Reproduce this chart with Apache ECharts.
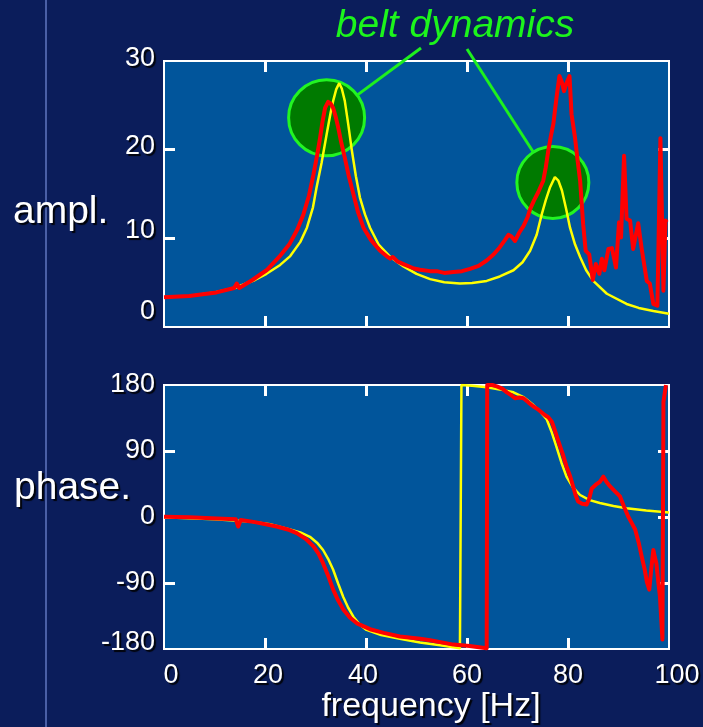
<!DOCTYPE html>
<html>
<head>
<meta charset="utf-8">
<script src="https://cdn.jsdelivr.net/npm/echarts@6/dist/echarts.min.js"></script>
<style>
  html, body { margin: 0; padding: 0; background: #0b1d5b; }
  #chart { width: 703px; height: 727px; }
</style>
</head>
<body>
<div id="chart"></div>
<script>
// Frequency response: amplitude and phase, model (yellow) vs. measurement (red)

const freqTicks = [0, 20, 40, 60, 80, 100];
const amplTicks = [0, 10, 20, 30];
const phaseTicks = [-180, -90, 0, 90, 180];

// amplitude, model [Hz, ampl]
const amplModel = [
  [0, 3.35], [5, 3.5], [10, 3.9], [14, 4.4], [18, 5.3], [20.3, 6.0], [23, 7.0], [25, 8.0],
  [27, 9.6], [28.3, 11.2], [29.5, 13.5], [30.2, 15.7], [31.2, 18.5], [32.2, 21.7], [33.0, 24.2],
  [33.5, 25.5], [34.1, 26.8], [34.7, 27.5], [35.2, 26.9], [35.8, 25.5], [36.5, 22.8], [37.2, 19.9],
  [38.0, 17.0], [38.8, 14.6], [39.8, 12.7], [40.8, 11.2], [42.5, 9.3], [44.8, 7.9], [47.5, 6.8],
  [50, 6.0], [52.7, 5.4], [55.5, 5.05], [58.6, 4.9], [61, 4.95], [63.9, 5.2], [66.5, 5.7],
  [69.2, 6.4], [71, 7.3], [72.5, 8.6], [73.8, 10.4], [74.8, 12.7], [75.6, 14.3], [76.4, 15.7],
  [77.4, 16.9], [78.1, 16.5], [78.8, 15.4], [79.6, 13.4], [80.4, 11.2], [81.4, 9.3], [82.4, 7.9],
  [83.6, 6.4], [85.0, 5.2], [87.7, 3.75], [91.6, 2.6], [94, 2.15], [96.9, 1.8], [100, 1.5]
];

// amplitude, measured [Hz, ampl]
const amplMeas = [
  [0, 3.35], [5, 3.5], [10.4, 3.9], [13.9, 4.4], [14.4, 4.9], [14.9, 4.4], [17.5, 5.3], [20.3, 6.4],
  [22.8, 7.9], [24.9, 9.4], [26.4, 11.0], [27.6, 12.7], [28.7, 14.8], [29.6, 17.2], [30.3, 19.3],
  [30.9, 21.3], [31.4, 23.2], [31.9, 24.7], [32.5, 25.4], [33.0, 25.2], [33.5, 24.7], [34.0, 23.7],
  [34.5, 22.5], [35.1, 20.8], [35.8, 19.1], [36.6, 17.0], [37.5, 15.0], [38.4, 13.0], [39.5, 11.2],
  [41.0, 9.8], [42.8, 8.6], [44.3, 7.9], [44.8, 7.7], [45.3, 7.9], [46.2, 7.4], [47.4, 7.1],
  [49.5, 6.6], [50.7, 6.45], [52.7, 6.3], [54.0, 6.3], [55.5, 6.1], [57.3, 6.2], [59.0, 6.3],
  [60.6, 6.55], [62.3, 6.9], [63.9, 7.5], [65.3, 8.2], [66.5, 9.0], [67.5, 9.8], [68.2, 10.4],
  [68.8, 10.2], [69.5, 9.7], [70.3, 10.6], [71.2, 11.4], [72.0, 12.4], [72.5, 13.3], [73.2, 14.2],
  [74.1, 15.2], [75.1, 16.5], [75.6, 18.0], [76.1, 19.9], [76.6, 21.5], [77.1, 22.9], [77.5, 24.8],
  [77.8, 26.2], [78.3, 28.3], [78.8, 27.6], [79.2, 26.6], [79.7, 27.5], [80.3, 28.3], [80.7, 24.0],
  [81.4, 21.3], [81.9, 18.8], [82.4, 16.5], [83.0, 11.6], [83.5, 8.6], [84.2, 8.2], [84.9, 5.3],
  [85.5, 7.1], [86.2, 6.0], [86.7, 7.7], [87.2, 6.4], [88.0, 8.8], [88.7, 8.9], [89.5, 6.7],
  [90.1, 11.8], [90.5, 10.1], [91.1, 19.3], [91.6, 12.2], [92.3, 12.0], [92.9, 8.8], [93.9, 11.7],
  [94.6, 8.8], [95.6, 5.2], [96.2, 4.9], [96.9, 2.6], [97.7, 2.4], [98.3, 21.3], [98.9, 4.1],
  [99.3, 12.0], [99.6, 11.8]
];

// phase, model [Hz, deg]; wraps from -180 to +180
const phaseModel = [
  [0, -0.5], [10, -3], [17, -6], [21, -10], [24.9, -17], [27, -21], [28.9, -27], [30.3, -35],
  [31.5, -45], [32.5, -57], [33.5, -72], [34.5, -91], [35.5, -109], [36.5, -124], [37.5, -136],
  [38.8, -147], [40.1, -154], [43, -161], [46.7, -166], [50.7, -171], [54.7, -175], [58.6, -179],
  [58.9, -180], [58.9, 180], [61, 179], [63.9, 177], [66.5, 174], [69.2, 170], [71.3, 163],
  [73.1, 153], [74.6, 143], [75.8, 133], [76.8, 115], [77.7, 96], [78.7, 74], [79.7, 55],
  [81, 40], [82.4, 30], [84.3, 23], [86.3, 19], [89, 15], [91.6, 12], [95.5, 9], [100, 6]
];

// phase, measured [Hz, deg]
const phaseMeas = [
  [0, 0.5], [5, -0.5], [10.4, -2], [14.2, -3], [14.7, -13], [15.2, -4], [18, -7], [22.3, -13],
  [24.5, -17], [26.3, -22], [28.1, -30], [29.6, -40], [30.6, -50], [31.5, -63], [32.5, -80],
  [33.5, -99], [34.5, -114], [35.5, -126], [36.8, -137], [38.2, -145], [40.8, -153], [43.5, -158],
  [46.7, -163], [50.7, -166], [52.7, -168], [57.3, -174], [60.5, -176], [63.9, -179], [64.0, -180],
  [64.0, 180], [65.0, 180], [65.9, 178], [67.0, 175], [67.9, 170], [68.8, 166], [69.5, 162],
  [70.3, 163], [71.2, 162], [72.2, 156], [73.1, 151], [74.2, 146], [75.4, 139], [76.1, 136],
  [76.8, 130], [77.4, 118], [78.1, 103], [78.9, 87], [79.7, 69], [80.4, 56], [81.0, 42],
  [81.5, 30], [82.0, 21], [82.8, 18], [83.7, 17], [84.2, 25], [84.7, 39], [85.5, 44], [86.3, 48],
  [87.0, 55], [87.6, 48], [88.3, 42], [89.3, 35], [90.3, 28], [91.1, 14], [91.9, 1], [92.6, -8],
  [93.3, -17], [94.0, -35], [94.6, -54], [95.2, -72], [95.6, -88], [96.1, -99], [96.5, -70],
  [96.9, -45], [97.2, -55], [97.5, -63], [97.9, -90], [98.2, -108], [98.7, -167], [98.9, 157],
  [99.4, 180]
];

// resonance annotations (data coordinates on the amplitude plot)
const beltModes = [[32.2, 23.6], [77.0, 16.3]];

const FONT = '"Liberation Sans", Arial, Helvetica, sans-serif';
const WHITE = '#ffffff';
const shadow = { textShadowColor: 'rgba(0,0,0,0.9)', textShadowOffsetX: 2, textShadowOffsetY: 2, textShadowBlur: 1 };

const tickStyle = { show: true, inside: true, length: 11, lineStyle: { color: WHITE, width: 3 } };

function labelStyle(extra) {
  return Object.assign({ color: WHITE, fontSize: 27, fontFamily: FONT }, shadow, extra);
}

// per-label nudges: tokens named by value
function tokenFormatter(v) { return '{t' + String(v).replace('-', 'm') + '|' + v + '}'; }

const chart = echarts.init(document.getElementById('chart'), null, { renderer: 'canvas' });

const gridBase = { show: true, backgroundColor: '#01559b', borderColor: WHITE, borderWidth: 2, left: 164, width: 505 };

function xAxisFor(gridIndex, position, showLabels) {
  return {
    type: 'value', gridIndex, position, min: 0, max: 100, interval: 20,
    axisLine: { show: false, onZero: false }, splitLine: { show: false },
    axisTick: Object.assign({ customValues: [20, 40, 60, 80] }, tickStyle),
    axisLabel: showLabels ? labelStyle({
      margin: 13,
      customValues: freqTicks,
      formatter: tokenFormatter,
      rich: { t0: { padding: [0, 0, 0, 14] }, t20: { padding: [0, 0, 0, 6] }, t40: { padding: [0, 6, 0, 0] }, t100: { padding: [0, 0, 0, 16] } }
    }) : { show: false }
  };
}

function yAxisFor(gridIndex, position, min, max, interval, ticks, showLabels, rich) {
  return {
    type: 'value', gridIndex, position, min, max, interval,
    axisLine: { show: false, onZero: false }, splitLine: { show: false },
    axisTick: Object.assign({ customValues: ticks.slice(1, -1) }, tickStyle),
    axisLabel: showLabels ? labelStyle({ margin: 9, customValues: ticks, formatter: tokenFormatter, rich }) : { show: false }
  };
}

chart.setOption({
  animation: false,
  backgroundColor: '#0b1d5b',
  grid: [
    Object.assign({ top: 61, height: 266 }, gridBase),
    Object.assign({ top: 385, height: 264 }, gridBase)
  ],
  xAxis: [
    xAxisFor(0, 'bottom', false),
    xAxisFor(0, 'top', false),
    xAxisFor(1, 'bottom', true),
    xAxisFor(1, 'top', false)
  ],
  yAxis: [
    yAxisFor(0, 'left', 0, 30, 10, amplTicks, true, {
      t0: { padding: [0, 0, 30, 0] }, t10: { padding: [0, 0, 15, 0] },
      t20: { padding: [0, 0, 7, 0] }, t30: { padding: [0, 0, 4, 0] }
    }),
    yAxisFor(0, 'right', 0, 30, 10, amplTicks, false),
    yAxisFor(1, 'left', -180, 180, 90, phaseTicks, true, {
      tm180: { padding: [0, 0, 12, 0] }
    }),
    yAxisFor(1, 'right', -180, 180, 90, phaseTicks, false)
  ],
  series: [
    { name: 'model', type: 'line', xAxisIndex: 0, yAxisIndex: 0, data: amplModel, showSymbol: false, z: 3,
      lineStyle: { color: '#ffff00', width: 2.5 } },
    { name: 'measured', type: 'line', xAxisIndex: 0, yAxisIndex: 0, data: amplMeas, showSymbol: false, z: 4,
      lineStyle: { color: '#ff0000', width: 4, join: 'round' } },
    { name: 'model', type: 'line', xAxisIndex: 2, yAxisIndex: 2, data: phaseModel, showSymbol: false, z: 3,
      lineStyle: { color: '#ffff00', width: 2.5 } },
    { name: 'measured', type: 'line', xAxisIndex: 2, yAxisIndex: 2, data: phaseMeas, showSymbol: false, z: 4,
      lineStyle: { color: '#ff0000', width: 4, join: 'round' } }
  ]
});

// annotation: circles around the belt resonances, linked to the caption
const radii = [38, 36];
const captionAnchors = [[421, 48], [467, 49]];
const centers = beltModes.map(p => chart.convertToPixel({ gridIndex: 0 }, p));

const annotation = [];
centers.forEach((c, i) => {
  annotation.push({
    type: 'circle', z: 1,
    shape: { cx: c[0], cy: c[1], r: radii[i] },
    style: { fill: '#007a00', stroke: '#22f522', lineWidth: 3 }
  });
  const a = captionAnchors[i];
  const dx = c[0] - a[0], dy = c[1] - a[1];
  const d = Math.sqrt(dx * dx + dy * dy);
  annotation.push({
    type: 'line', z: 1,
    shape: { x1: a[0], y1: a[1], x2: c[0] - dx / d * radii[i], y2: c[1] - dy / d * radii[i] },
    style: { stroke: '#1ef01e', lineWidth: 3 }
  });
});

chart.setOption({
  graphic: [
    { type: 'line', z: 0, shape: { x1: 46, y1: 0, x2: 46, y2: 727 }, style: { stroke: '#4a5fa6', lineWidth: 2 } },
    { type: 'text', z: 5, x: 455, y: 26,
      style: { text: 'belt dynamics', fontSize: 39, fontStyle: 'italic', fontFamily: FONT, fill: '#1cf51c',
               align: 'center', verticalAlign: 'middle' } },
    { type: 'text', z: 5, x: 13, y: 212,
      style: Object.assign({ text: 'ampl.', fontSize: 39, fontFamily: FONT, fill: WHITE, align: 'left', verticalAlign: 'middle' }, shadow) },
    { type: 'text', z: 5, x: 14, y: 488,
      style: Object.assign({ text: 'phase.', fontSize: 39, fontFamily: FONT, fill: WHITE, align: 'left', verticalAlign: 'middle' }, shadow) },
    { type: 'text', z: 5, x: 431, y: 707,
      style: Object.assign({ text: 'frequency [Hz]', fontSize: 34, fontFamily: FONT, fill: WHITE, align: 'center', verticalAlign: 'middle' }, shadow) }
  ].concat(annotation)
});
</script>
</body>
</html>
